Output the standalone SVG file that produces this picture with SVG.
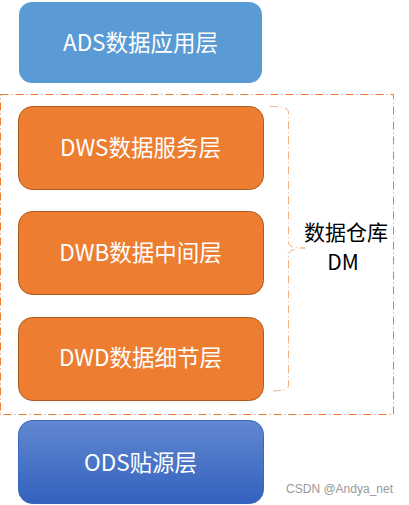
<svg xmlns="http://www.w3.org/2000/svg" width="409" height="505" viewBox="0 0 409 505">
<defs>
<linearGradient id="odsG" x1="0" y1="0" x2="0" y2="1">
<stop offset="0" stop-color="#6188D0"/>
<stop offset="1" stop-color="#3361BE"/>
</linearGradient>
<style>
.lbl{font-family:"Noto Sans CJK SC","Noto Sans",sans-serif;font-size:22.5px;fill:#FFFFFF;text-anchor:middle}
.dw{fill:#ED7D31;stroke:#B0591E;stroke-width:1}
.side{font-family:"Noto Sans CJK SC","Noto Sans",sans-serif;font-size:21px;fill:#000000;text-anchor:middle}
</style>
</defs>
<rect width="409" height="505" fill="#FFFFFF"/>
<g id="connectors">
<rect x="0.5" y="94.5" width="393" height="320" fill="none" stroke="#ED7D31" stroke-width="1" stroke-dasharray="8 3 1 3"/>
<path d="M270,106.5 Q288.5,106 288.5,112 L288.5,243 Q288.5,248 305,248 Q288.5,249 288.5,254 L288.5,386 Q288.5,391 270,391" fill="none" stroke="#F4B183" stroke-width="1" stroke-dasharray="8 3 1 3"/>
</g>
<g id="ads">
<rect x="19" y="2" width="243" height="81" rx="13" fill="#5B9BD5"/>
<text class="lbl" x="140.5" y="51">ADS数据应用层</text>
</g>
<g id="dws">
<rect class="dw" x="18.5" y="106.5" width="245" height="83" rx="14"/>
<text class="lbl" x="140.5" y="156">DWS数据服务层</text>
</g>
<g id="dwb">
<rect class="dw" x="18.5" y="211.5" width="245" height="83" rx="14"/>
<text class="lbl" x="140.5" y="261">DWB数据中间层</text>
</g>
<g id="dwd">
<rect class="dw" x="18.5" y="317.5" width="245" height="83" rx="14"/>
<text class="lbl" x="140.5" y="366">DWD数据细节层</text>
</g>
<g id="ods">
<rect x="18.5" y="420.5" width="245" height="83" rx="14" fill="url(#odsG)" stroke="#3A66BF" stroke-width="1"/>
<text class="lbl" x="140.5" y="471">ODS贴源层</text>
</g>
<g id="dm">
<text class="side" x="346" y="240">数据仓库</text>
<text class="side" x="343" y="270">DM</text>
</g>
<text x="393" y="493" font-family="Liberation Sans, Arial, sans-serif" font-size="12" fill="#999999" text-anchor="end">CSDN @Andya_net</text>
</svg>
